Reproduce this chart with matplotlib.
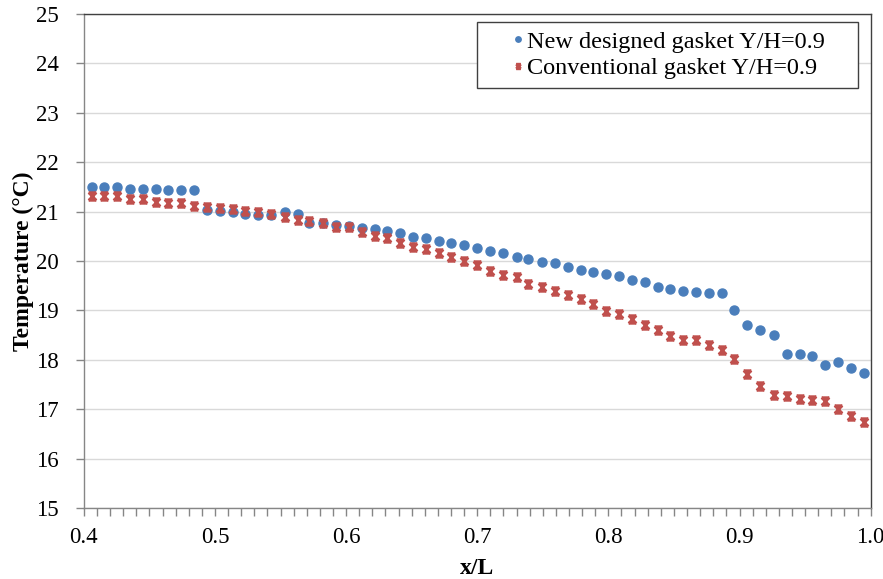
import matplotlib
matplotlib.use("Agg")
import matplotlib.pyplot as plt
from matplotlib.path import Path
from matplotlib.patches import Rectangle
from matplotlib.ticker import MultipleLocator

x_over_L = [0.406, 0.415, 0.425, 0.435, 0.445, 0.455, 0.464, 0.474, 0.484, 0.494,
            0.504, 0.514, 0.523, 0.533, 0.543, 0.553, 0.563, 0.572, 0.582, 0.592,
            0.602, 0.612, 0.622, 0.631, 0.641, 0.651, 0.661, 0.671, 0.680, 0.690,
            0.700, 0.710, 0.720, 0.730, 0.739, 0.749, 0.759, 0.769, 0.779, 0.788,
            0.798, 0.808, 0.818, 0.828, 0.838, 0.847, 0.857, 0.867, 0.877, 0.887,
            0.896, 0.906, 0.916, 0.926, 0.936, 0.946, 0.955, 0.965, 0.975, 0.985,
            0.995]

new_gasket = [21.50, 21.50, 21.50, 21.46, 21.46, 21.46, 21.44, 21.44, 21.44, 21.03,
              21.01, 20.99, 20.96, 20.94, 20.93, 20.99, 20.96, 20.76, 20.76, 20.73,
              20.71, 20.67, 20.65, 20.61, 20.56, 20.49, 20.46, 20.41, 20.37, 20.33,
              20.26, 20.21, 20.17, 20.09, 20.05, 19.99, 19.95, 19.88, 19.82, 19.78,
              19.73, 19.70, 19.62, 19.57, 19.47, 19.43, 19.39, 19.37, 19.35, 19.35,
              19.01, 18.70, 18.60, 18.50, 18.12, 18.11, 18.08, 17.89, 17.96, 17.84,
              17.73]

conventional = [21.32, 21.32, 21.32, 21.25, 21.25, 21.20, 21.18, 21.17, 21.12, 21.10,
                21.08, 21.05, 21.01, 20.99, 20.95, 20.90, 20.84, 20.80, 20.76, 20.69,
                20.69, 20.58, 20.51, 20.46, 20.37, 20.29, 20.24, 20.17, 20.09, 20.01,
                19.92, 19.80, 19.71, 19.67, 19.54, 19.47, 19.39, 19.31, 19.24, 19.12,
                18.99, 18.93, 18.82, 18.70, 18.60, 18.48, 18.41, 18.41, 18.30, 18.20,
                18.01, 17.71, 17.48, 17.28, 17.27, 17.21, 17.19, 17.17, 17.00, 16.86,
                16.75]

labels = ["New designed gasket Y/H=0.9", "Conventional gasket Y/H=0.9"]
x_ticks = [0.4, 0.5, 0.6, 0.7, 0.8, 0.9, 1.0]
y_ticks = [15, 16, 17, 18, 19, 20, 21, 22, 23, 24, 25]

plt.rcParams['font.family'] = ['Liberation Serif', 'DejaVu Serif']

# hourglass-like cross marker (X with top/bottom bars)
verts = [(-1, 1), (1, -1), (-1, -1), (1, 1), (-1, 1), (1, 1), (-1, -1), (1, -1)]
codes = [Path.MOVETO, Path.LINETO, Path.MOVETO, Path.LINETO,
         Path.MOVETO, Path.LINETO, Path.MOVETO, Path.LINETO]
xmark = Path(verts, codes)

W, H = 883, 579
fig = plt.figure(figsize=(W / 100, H / 100), dpi=100)
ax = fig.add_axes([0.095, 0.1226, 0.891, 0.8532])

blue = '#4A7EBB'
red = '#C0504D'
ax.plot(x_over_L, new_gasket, linestyle='none', marker='o', markersize=6.5,
        color=blue, markeredgecolor=blue, label=labels[0], zorder=3)
ax.plot(x_over_L, conventional, linestyle='none', marker=xmark, markersize=5.5,
        markeredgewidth=2.0, color=red, markeredgecolor=red, label=labels[1], zorder=3)

ax.set_xlim(0.4, 1.0)
ax.set_ylim(15, 25)
ax.set_xticks(x_ticks)
ax.set_xticklabels([f"{v:.1f}" for v in x_ticks])
ax.set_yticks(y_ticks)
ax.xaxis.set_minor_locator(MultipleLocator(0.01))

ax.grid(axis='y', color='#D9D9D9', linewidth=1.0)
ax.set_axisbelow(True)

for side in ['left', 'bottom']:
    ax.spines[side].set_color('#868686')
    ax.spines[side].set_linewidth(1.0)
for side in ['top', 'right']:
    ax.spines[side].set_color('#404040')
    ax.spines[side].set_linewidth(1.0)

ax.tick_params(axis='both', which='major', labelsize=16.5, color='#868686',
               length=6, width=1.0, direction='out')
ax.tick_params(axis='x', which='minor', color='#868686', length=6, width=1.0,
               direction='out')
ax.tick_params(axis='x', which='major', pad=8)
ax.tick_params(axis='y', which='major', pad=12)

ax.set_xlabel('x/L', fontsize=17, fontweight='bold', labelpad=7)
ax.set_ylabel('Temperature (°C)', fontsize=17, fontweight='bold', labelpad=1.5)

# legend box (frame drawn separately to match the wide right padding)
box_l, box_t, box_r, box_b = 477, 22, 858, 88
frame = Rectangle((box_l / W, 1 - box_b / H), (box_r - box_l) / W, (box_b - box_t) / H,
                  transform=fig.transFigure, facecolor='white', edgecolor='#404040',
                  linewidth=1.0, zorder=4, clip_on=False)
ax.add_patch(frame)
leg = ax.legend(loc='upper left', bbox_to_anchor=(box_l / W, 1 - box_t / H),
                bbox_transform=fig.transFigure, fontsize=17.5, frameon=False,
                handlelength=2.67, handletextpad=-0.95, borderpad=0.35,
                labelspacing=0.2, markerscale=0.6, borderaxespad=0.0)
leg.set_zorder(6)

fig.savefig('out.png', dpi=100, facecolor='white')
